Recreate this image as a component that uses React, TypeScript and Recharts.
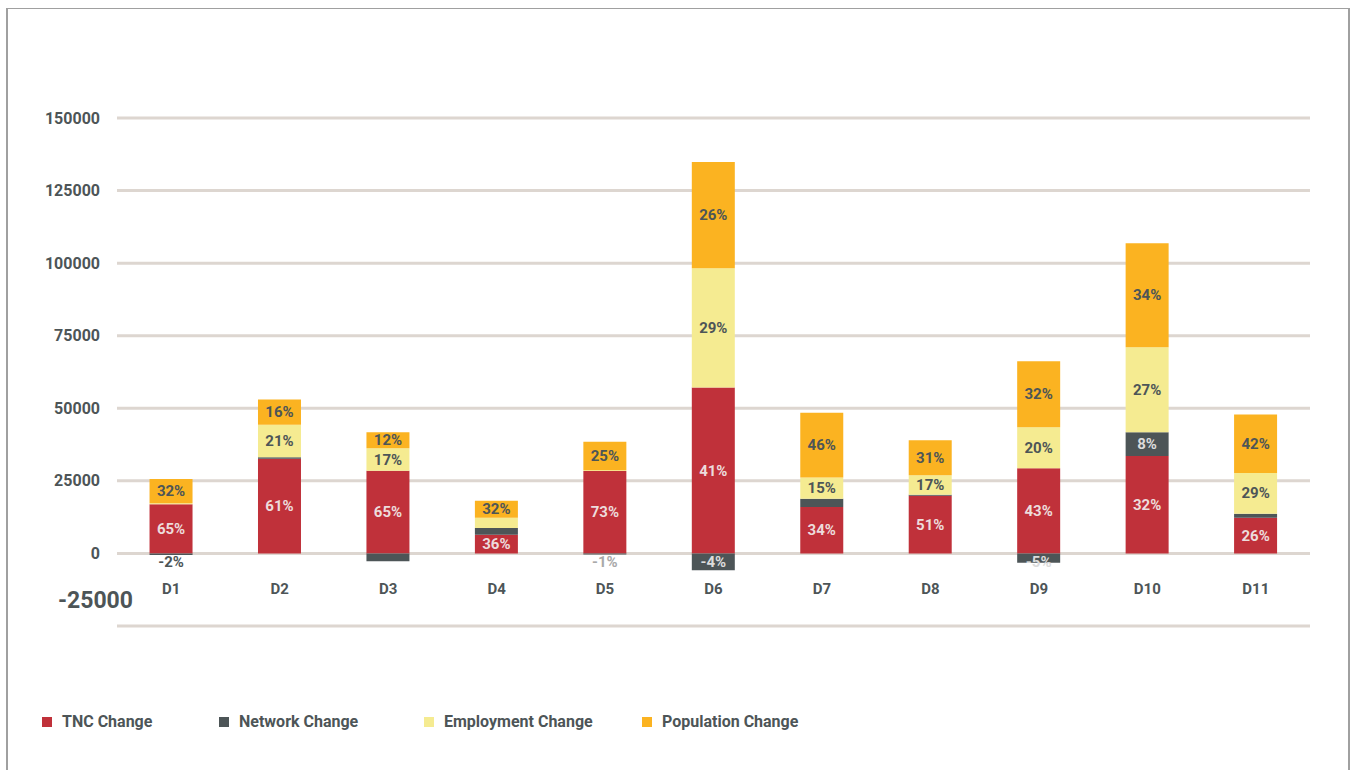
import React from "react";
import { Bar, BarChart, CartesianGrid, LabelList, XAxis, YAxis } from "recharts";

// districts and the change components (people), stacked per district
const districts = ["D1", "D2", "D3", "D4", "D5", "D6", "D7", "D8", "D9", "D10", "D11"];
const tncChange = [16900, 32650, 28500, 6450, 28380, 57130, 15970, 19890, 29300, 33550, 12300];
const networkChange = [-500, 500, -2700, 2300, -400, -5800, 2870, 300, -3200, 8170, 1380];
const employmentChange = [400, 11170, 7700, 3560, 300, 41140, 7350, 6700, 14140, 29300, 14020];
const populationChange = [8300, 8720, 5520, 5860, 9770, 36550, 22300, 12070, 22760, 35860, 20120];

// share labels printed in the segments (null = no label)
const tncShare = ["65%", "61%", "65%", "36%", "73%", "41%", "34%", "51%", "43%", "32%", "26%"];
const networkShare = ["-2%", null, null, null, "-1%", "-4%", null, null, "-5%", "8%", null];
const employmentShare = [null, "21%", "17%", null, null, "29%", "15%", "17%", "20%", "27%", "29%"];
const populationShare = ["32%", "16%", "12%", "32%", "25%", "26%", "46%", "31%", "32%", "34%", "42%"];

const yTicks = [-25000, 0, 25000, 50000, 75000, 100000, 125000, 150000];

const RED = "#c0313a";
const GREY = "#4d5557";
const YELLOW = "#f5eb91";
const ORANGE = "#fbb321";
const TEXT = "#4d5557";
const FONT = "Roboto, 'DejaVu Sans', sans-serif";

const data = districts.map((name, i) => ({
  name,
  tnc: tncChange[i],
  network: networkChange[i],
  employment: employmentChange[i],
  population: populationChange[i],
  tncLabel: tncShare[i],
  networkLabel: networkShare[i],
  employmentLabel: employmentShare[i],
  populationLabel: populationShare[i],
}));

const legendItems = [
  { label: "TNC Change", color: RED, left: 35 },
  { label: "Network Change", color: GREY, left: 212 },
  { label: "Employment Change", color: YELLOW, left: 417 },
  { label: "Population Change", color: ORANGE, left: 635 },
];

function segmentLabel(color: string, negative = false) {
  return (props: any) => {
    const { x, y, width, height, value, index } = props;
    if (value == null) return null;
    const top = Math.min(y, y + height);
    const h = Math.abs(height);
    let cy = top + h / 2;
    let fill = color;
    if (negative && networkChange[index] < 0) {
      cy = Math.max(cy, top + 9);
      // label sits outside a hairline segment
      if (h < 4) fill = index === 0 ? TEXT : "#a9a9a9";
    }
    return (
      <text
        x={x + width / 2}
        y={cy}
        textAnchor="middle"
        dominantBaseline="central"
        fill={fill}
        fontFamily={FONT}
        fontWeight={700}
        fontSize={15}
      >
        {value}
      </text>
    );
  };
}

function YTick(props: any) {
  const { x, y, payload } = props;
  const big = payload.value === -25000;
  return (
    <text
      x={big ? x + 16 : x - 17}
      y={big ? y - 26 : y}
      textAnchor="end"
      dominantBaseline="central"
      fill={TEXT}
      fontFamily={FONT}
      fontWeight={700}
      fontSize={big ? 23 : 16}
    >
      {payload.value}
    </text>
  );
}

function XTick(props: any) {
  const { x, y, payload } = props;
  return (
    <text
      x={x}
      y={y - 37}
      textAnchor="middle"
      dominantBaseline="central"
      fill={TEXT}
      fontFamily={FONT}
      fontWeight={700}
      fontSize={15}
    >
      {payload.value}
    </text>
  );
}

export default function App() {
  return (
    <div
      style={{
        position: "fixed",
        left: 6,
        top: 8,
        width: 1344,
        height: 762,
        boxSizing: "border-box",
        borderTop: "1px solid #a0a0a0",
        borderLeft: "2px solid #a0a0a0",
        borderRight: "2px solid #a0a0a0",
        background: "#fff",
        overflow: "hidden",
      }}
    >
      <BarChart
        width={1340}
        height={760}
        data={data}
        stackOffset="sign"
        barCategoryGap="30%"
        margin={{ top: 109, right: 38, bottom: 113, left: 9 }}
      >
        <CartesianGrid vertical={false} stroke="#ddd6d0" strokeWidth={3} />
        <XAxis dataKey="name" axisLine={false} tickLine={false} tickSize={0} tickMargin={0} height={30} tick={<XTick />} />
        <YAxis
          type="number"
          domain={[-25000, 150000]}
          ticks={yTicks}
          interval={0}
          axisLine={false}
          tickLine={false}
          tickSize={0}
          tickMargin={0}
          width={100}
          tick={<YTick />}
        />
        <Bar dataKey="tnc" stackId="a" fill={RED} isAnimationActive={false}>
          <LabelList dataKey="tncLabel" content={segmentLabel("#eddcdc")} />
        </Bar>
        <Bar dataKey="network" stackId="a" fill={GREY} isAnimationActive={false}>
          <LabelList dataKey="networkLabel" content={segmentLabel("#dcdcdc", true)} />
        </Bar>
        <Bar dataKey="employment" stackId="a" fill={YELLOW} isAnimationActive={false}>
          <LabelList dataKey="employmentLabel" content={segmentLabel(TEXT)} />
        </Bar>
        <Bar dataKey="population" stackId="a" fill={ORANGE} isAnimationActive={false}>
          <LabelList dataKey="populationLabel" content={segmentLabel(TEXT)} />
        </Bar>
      </BarChart>
      {legendItems.map((item) => (
        <div
          key={item.label}
          style={{
            position: "absolute",
            left: item.left - 1,
            top: 703,
            display: "flex",
            alignItems: "center",
            fontFamily: FONT,
            fontWeight: 700,
            fontSize: 16,
            color: TEXT,
          }}
        >
          <span style={{ width: 10, height: 10, background: item.color, marginRight: 10, display: "inline-block" }} />
          {item.label}
        </div>
      ))}
    </div>
  );
}
